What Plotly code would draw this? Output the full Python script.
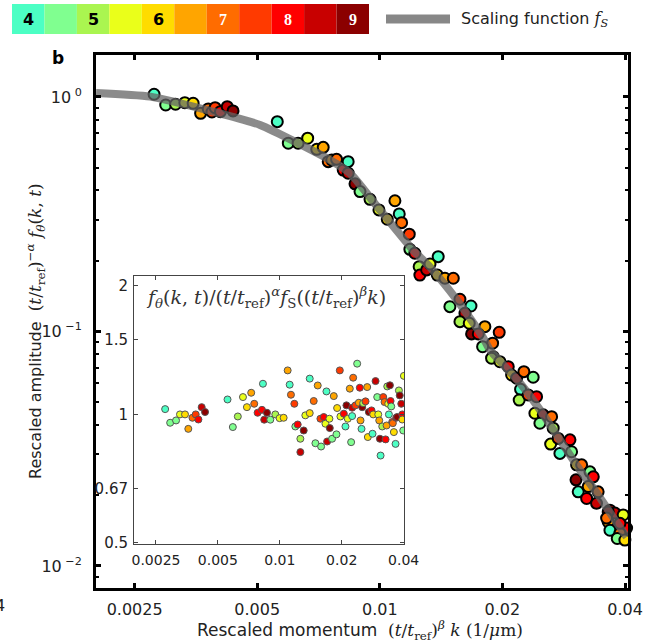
import plotly.graph_objects as go

# ---------------- data ----------------
PALETTE = ['#4cffc4', '#80ff90', '#aaf550', '#eaff1a', '#ffdc00', '#ffa500',
           '#ff6c00', '#ff3a00', '#ff0000', '#c80000', '#8b0000']
TIMES = [4, 4.5, 5, 5.5, 6, 6.5, 7, 7.5, 8, 8.5, 9]
TIME_LABELS = ['4', '', '5', '', '6', '', '7', '', '8', '', '9']

# scaling function f_S
fs_k = [0.00201, 0.00273, 0.0040, 0.00508, 0.00754, 0.00844, 0.0100, 0.01206,
        0.01328, 0.01547, 0.0179, 0.01864, 0.02208, 0.02473, 0.02768, 0.0310,
        0.0341, 0.03735, 0.0404]
fs_amp = [1.04, 1.003, 0.855, 0.76, 0.539, 0.474, 0.330, 0.2226, 0.188, 0.136,
          0.0947, 0.0834, 0.0603, 0.0463, 0.0345, 0.02566, 0.02048, 0.01618, 0.0133]

# main panel: rescaled momentum, rescaled amplitude, time
main_k = [0.00279, 0.00298, 0.00315, 0.00332, 0.00348, 0.00363, 0.00379, 0.00387,
          0.00394, 0.00406, 0.00422, 0.00436,
          0.00560, 0.00596, 0.00630, 0.00665, 0.00700, 0.00726, 0.00747, 0.00762,
          0.00783, 0.00813, 0.00836, 0.00836, 0.00869, 0.00894, 0.00946, 0.00995,
          0.01043, 0.01089, 0.01116, 0.01131, 0.01181, 0.01185, 0.01219, 0.01249,
          0.01254, 0.01303, 0.01328, 0.01391, 0.01384, 0.01445, 0.01515, 0.01573,
          0.01486, 0.01674, 0.01618, 0.01573, 0.01658, 0.01811, 0.01680, 0.01745,
          0.01964, 0.01892, 0.01788, 0.01899, 0.01881, 0.01972, 0.02067, 0.02107,
          0.02167, 0.02258, 0.02380, 0.02216, 0.02199, 0.02314, 0.02426, 0.02403,
          0.02519, 0.02641, 0.02472, 0.02665, 0.02627, 0.02742, 0.02930, 0.02768,
          0.02957, 0.03042, 0.03130, 0.03032, 0.03281, 0.03343, 0.03070, 0.03220,
          0.03249, 0.03436, 0.03405, 0.03673, 0.03779, 0.03959, 0.03637, 0.04036,
          0.03673, 0.03887, 0.03828, 0.03997, 0.03637, 0.03605, 0.03887]
main_amp = [1.027, 0.924, 0.931, 0.946, 0.940, 0.852, 0.889, 0.863,
            0.900, 0.866, 0.909, 0.872,
            0.785, 0.635, 0.635, 0.667, 0.598, 0.610, 0.530, 0.539,
            0.542, 0.488, 0.530, 0.473, 0.426, 0.395, 0.366, 0.330,
            0.301, 0.361, 0.317, 0.291, 0.260, 0.224, 0.2156, 0.189,
            0.174, 0.183, 0.194, 0.2084, 0.174, 0.1686, 0.1686, 0.1372,
            0.1276, 0.1284, 0.1196, 0.1101, 0.1084, 0.1048, 0.0976, 0.0976,
            0.0992, 0.0891, 0.0861, 0.0781, 0.0769, 0.0743, 0.0708, 0.0652,
            0.0632, 0.0674, 0.0638, 0.0567, 0.0510, 0.0536, 0.0527, 0.0448,
            0.0441, 0.0433, 0.0406, 0.0387, 0.0331, 0.0350, 0.0345, 0.0302,
            0.0307, 0.0270, 0.0270, 0.0233, 0.0252, 0.0240, 0.0207, 0.0194,
            0.0218, 0.0207, 0.0185, 0.0173, 0.0168, 0.0165, 0.0154, 0.0145,
            0.0142, 0.0138, 0.0131, 0.0129, 0.0170, 0.0160, 0.0152]
main_t = [4, 4.5, 5, 5.5, 6, 6.5, 7, 7.5,
          7.5, 8, 8.5, 9,
          4, 4.5, 5, 5.5, 6, 6.5, 7, 6.5,
          7, 8, 4, 8.5, 9, 4.5, 5, 5.5,
          6, 6.5, 4, 7, 7.5, 4.5, 8, 5,
          8, 8.5, 5.5, 4, 6, 6.5, 7, 7.5,
          4.5, 4, 8.5, 5, 5.5, 6.5, 9, 8,
          7.5, 7, 4.5, 4, 5, 5.5, 8, 6,
          8.5, 7, 4.5, 4, 5, 7.5, 8, 5.5,
          8.5, 7, 4.5, 5, 5.5, 7.5, 8, 4,
          4.5, 6, 7, 9, 4.5, 8, 4, 8,
          6.5, 7, 8.5, 8, 8.5, 5.5, 6.5, 8,
          4, 7, 4.5, 6, 9, 7, 8]

# inset: ratio f_theta / (scaled f_S)
ins_k = [0.00277, 0.00293, 0.00313, 0.00327, 0.00346, 0.00359, 0.00376, 0.00390,
         0.00402, 0.00417, 0.00433, 0.00557, 0.00591, 0.00625, 0.00662, 0.00692,
         0.00726, 0.00751, 0.00780, 0.00819, 0.00828, 0.00840, 0.00866, 0.00899,
         0.00951, 0.00998, 0.01044, 0.01092, 0.01117, 0.01133, 0.01177, 0.01190,
         0.01222, 0.01259, 0.01259, 0.01307, 0.01331, 0.01398, 0.01398, 0.01462,
         0.01490, 0.01529, 0.01576, 0.01588, 0.01636, 0.01667, 0.01686, 0.01699,
         0.01743, 0.01750, 0.01796, 0.01830, 0.01886, 0.01900, 0.01958, 0.01972,
         0.02048, 0.02086, 0.02109, 0.02141, 0.02190, 0.02223, 0.02248, 0.02274,
         0.02248, 0.02334, 0.02378, 0.02423, 0.02450, 0.02469, 0.02497, 0.02516,
         0.02544, 0.02612, 0.02661, 0.02680, 0.02711, 0.02793, 0.02825, 0.02846,
         0.02922, 0.02977, 0.03011, 0.03045, 0.03068, 0.03091, 0.03149, 0.03185,
         0.03232, 0.03269, 0.03306, 0.03331, 0.03368, 0.03393, 0.03432, 0.03457,
         0.03482, 0.03521, 0.03546, 0.03587, 0.03655, 0.03683, 0.03720, 0.03795,
         0.03832, 0.03897, 0.03940, 0.03984, 0.04014, 0.03940]
ins_ratio = [1.029, 0.956, 0.968, 1.0, 1.0, 0.925, 0.982, 1.0,
             0.973, 1.040, 1.013, 1.084, 0.934, 0.989, 1.098, 1.040,
             1.124, 1.059, 1.009, 1.025, 1.180, 0.972, 1.009, 0.972,
             1.0, 0.980, 0.982, 1.268, 1.174, 1.112, 1.059, 0.937,
             0.947, 0.877, 0.816, 0.917, 0.995, 1.007, 1.213, 1.075,
             0.856, 1.169, 0.977, 0.841, 0.986, 0.951, 1.132, 0.864,
             0.977, 0.929, 0.877, 1.104, 0.898, 1.035, 1.268, 0.989,
             1.004, 0.937, 1.050, 0.977, 1.149, 0.861, 1.037, 1.219,
             0.991, 1.050, 1.315, 1.065, 1.155, 0.968, 0.925, 1.040,
             1.063, 1.073, 1.159, 0.885, 1.013, 1.022, 0.901, 1.0,
             1.197, 1.098, 1.0, 0.968, 0.877, 0.801, 0.937, 1.098,
             1.069, 0.874, 0.942, 1.163, 1.059, 1.0, 1.170, 1.075,
             1.044, 0.960, 0.954, 0.909, 0.853, 0.982, 0.986, 1.138,
             1.108, 1.059, 1.0, 0.917, 1.231, 0.973]
ins_t = [4, 4.5, 4.5, 5.5, 6, 6.5, 7, 7.5,
         8, 8.5, 9, 4, 4.5, 5, 5.5, 6,
         6.5, 7, 8, 8, 4, 8.5, 9, 4.5,
         5, 5.5, 6, 6.5, 4, 7, 7.5, 4.5,
         8, 5, 8.5, 9, 5.5, 6, 4, 7,
         4.5, 6.5, 7.5, 4.5, 8, 5.5, 4, 8.5,
         5.5, 9, 4.5, 6.5, 4.5, 6, 7.5, 5.5,
         8, 4, 9, 5.5, 6.5, 4.5, 8.5, 7,
         4, 7.5, 4.5, 6.5, 8, 6.5, 4, 9,
         5, 7.5, 6.5, 6, 9, 8, 4, 6,
         8.5, 4.5, 5.5, 6.5, 9, 4, 5, 7.5,
         7, 8, 6.5, 5, 5.5, 4, 9, 8,
         4.5, 7.5, 7, 6, 4, 8, 9, 5,
         9, 8.5, 8, 4.5, 5.5, 6]

K_TICKS = [0.0025, 0.005, 0.01, 0.02, 0.04]
K_TICKTEXT = ['0.0025', '0.005', '0.01', '0.02', '0.04']
AMP_TICKS = [1, 0.1, 0.01]
AMP_TICKTEXT = ['10<sup> 0</sup>', '10<sup> \u22121</sup>', '10<sup> \u22122</sup>']
RATIO_TICKS = [0.5, 0.67, 1, 1.5, 2]
RATIO_TICKTEXT = ['0.5', '0.67', '1', '1.5', '2']


def tcolor(t):
    return PALETTE[TIMES.index(t)]


# ---------------- layout geometry ----------------
W, H = 658, 641
L, R, T, B = 96, 30, 55, 53
PW, PH = W - L - R, H - T - B


def px(x):
    return (x - L) / PW


def py(y):
    return (H - B - y) / PH


SERIF = 'DejaVu Serif'
SANS = 'DejaVu Sans'
TXT = '#222222'

fig = go.Figure()

# main markers
fig.add_trace(go.Scatter(
    x=main_k, y=main_amp, mode='markers', xaxis='x', yaxis='y',
    marker=dict(size=11, color=[tcolor(t) for t in main_t],
                line=dict(color='black', width=2)),
    cliponaxis=False, showlegend=False, hoverinfo='skip'))

# scaling function on top
fig.add_trace(go.Scatter(
    x=fs_k, y=fs_amp, mode='lines', xaxis='x', yaxis='y',
    line=dict(color='rgba(100,100,100,0.75)', width=8, shape='spline', smoothing=0.6),
    showlegend=False, hoverinfo='skip'))

# inset markers
fig.add_trace(go.Scatter(
    x=ins_k, y=ins_ratio, mode='markers', xaxis='x2', yaxis='y2',
    marker=dict(size=7, color=[tcolor(t) for t in ins_t],
                line=dict(color='#555555', width=1)),
    showlegend=False, hoverinfo='skip'))

axis_common = dict(showgrid=False, zeroline=False, ticks='inside',
                   tickfont=dict(family=SANS, size=16, color=TXT))

fig.update_layout(
    width=W, height=H,
    margin=dict(l=L, r=R, t=T, b=B),
    paper_bgcolor='white', plot_bgcolor='white',
    xaxis=dict(type='log', range=[-2.697, -1.3906], tickvals=K_TICKS,
               ticktext=K_TICKTEXT, showline=True, linewidth=3, linecolor='black',
               mirror='ticks', ticklen=5, tickwidth=3, tickcolor='black',
               ticklabelstandoff=5, **axis_common),
    yaxis=dict(type='log', range=[-2.094, 0.179], tickvals=AMP_TICKS,
               ticktext=AMP_TICKTEXT, showline=True, linewidth=3, linecolor='black',
               mirror='ticks', ticklen=5, tickwidth=3, tickcolor='black',
               ticklabelstandoff=8,
               minor=dict(dtick='D1', ticks='inside', ticklen=3, tickwidth=2,
                          tickcolor='black', showgrid=False),
               **axis_common),
    xaxis2=dict(type='log', domain=[px(134), px(404)], anchor='y2',
                range=[-2.709, -1.396], tickvals=K_TICKS, ticktext=K_TICKTEXT,
                showline=True, linewidth=1, linecolor='#444444', mirror='ticks',
                ticklen=4, tickwidth=1, tickcolor='#444444', ticklabelstandoff=3,
                showgrid=False, zeroline=False, ticks='inside',
                tickfont=dict(family=SANS, size=14, color=TXT)),
    yaxis2=dict(type='log', domain=[py(544), py(276)], anchor='x2',
                range=[-0.3036, 0.3243], tickvals=RATIO_TICKS, ticktext=RATIO_TICKTEXT,
                showline=True, linewidth=1, linecolor='#444444', mirror='ticks',
                ticklen=4, tickwidth=1, tickcolor='#444444', ticklabelstandoff=2,
                showgrid=False, zeroline=False, ticks='inside',
                tickfont=dict(family=SANS, size=15, color=TXT)),
)

shapes = []
# inset reference line at ratio 1
shapes.append(dict(type='line', xref='x2 domain', yref='y2', x0=0, x1=1, y0=1, y1=1,
                   line=dict(color='#aaaaaa', width=1.5), layer='below'))

annotations = []


def note(x, y, text, size, family=SANS, color=TXT, xanchor='center', **kw):
    annotations.append(dict(x=px(x), y=py(y), xref='paper', yref='paper',
                            xanchor=xanchor, yanchor='middle', text=text,
                            showarrow=False,
                            font=dict(family=family, size=size, color=color), **kw))


# colour key
box_w = (369 - 12) / len(PALETTE)
for i, (c, lab) in enumerate(zip(PALETTE, TIME_LABELS)):
    x0 = 12 + i * box_w
    shapes.append(dict(type='rect', xref='paper', yref='paper',
                       x0=px(x0), x1=px(x0 + box_w), y0=py(34), y1=py(4),
                       fillcolor=c, line=dict(width=0)))
    if lab:
        dark = i >= 6
        note(x0 + box_w / 2, 19.5, '<b>%s</b>' % lab, 16,
             family='Liberation Serif' if dark else SANS,
             color='white' if dark else 'black')

# legend for scaling function
shapes.append(dict(type='line', xref='paper', yref='paper',
                   x0=px(386), x1=px(450), y0=py(19), y1=py(19),
                   line=dict(color='#878787', width=9)))
note(459, 19, 'Scaling function <span style="font-family:%s"><i>f</i><sub><i>S</i></sub></span>' % SERIF,
     16, xanchor='left')

# panel label
note(58, 58, '<b>b</b>', 17, color='black')

# stray neighbour tick label
note(7, 605, '4', 16, xanchor='right')

# axis titles
note(360, 630,
     'Rescaled momentum  <span style="font-family:%s;font-size:17px">(<i>t</i>/<i>t</i><sub>ref</sub>)'
     '<sup><i>\u03b2</i></sup> <i>k</i> (1/<i>\u03bc</i>m)</span>' % SERIF, 17)
note(35, 331,
     'Rescaled amplitude  <span style="font-family:%s;font-size:17px">(<i>t</i>/<i>t</i><sub>ref</sub>)'
     '<sup>\u2212<i>\u03b1</i></sup> <i>f</i><sub><i>\u03b8</i></sub>(<i>k</i>, <i>t</i>)</span>' % SERIF,
     16, textangle=-90)

# inset title
note(144, 297,
     '<i>f</i><sub><i>\u03b8</i></sub>(<i>k</i>, <i>t</i>)/(<i>t</i>/<i>t</i><sub>ref</sub>)'
     '<sup><i>\u03b1</i></sup><i>f</i><sub>S</sub>((<i>t</i>/<i>t</i><sub>ref</sub>)'
     '<sup><i>\u03b2</i></sup><i>k</i>)',
     19, family=SERIF, color='#333333', xanchor='left')

fig.update_layout(shapes=shapes, annotations=annotations)

fig.write_html('out.html')
